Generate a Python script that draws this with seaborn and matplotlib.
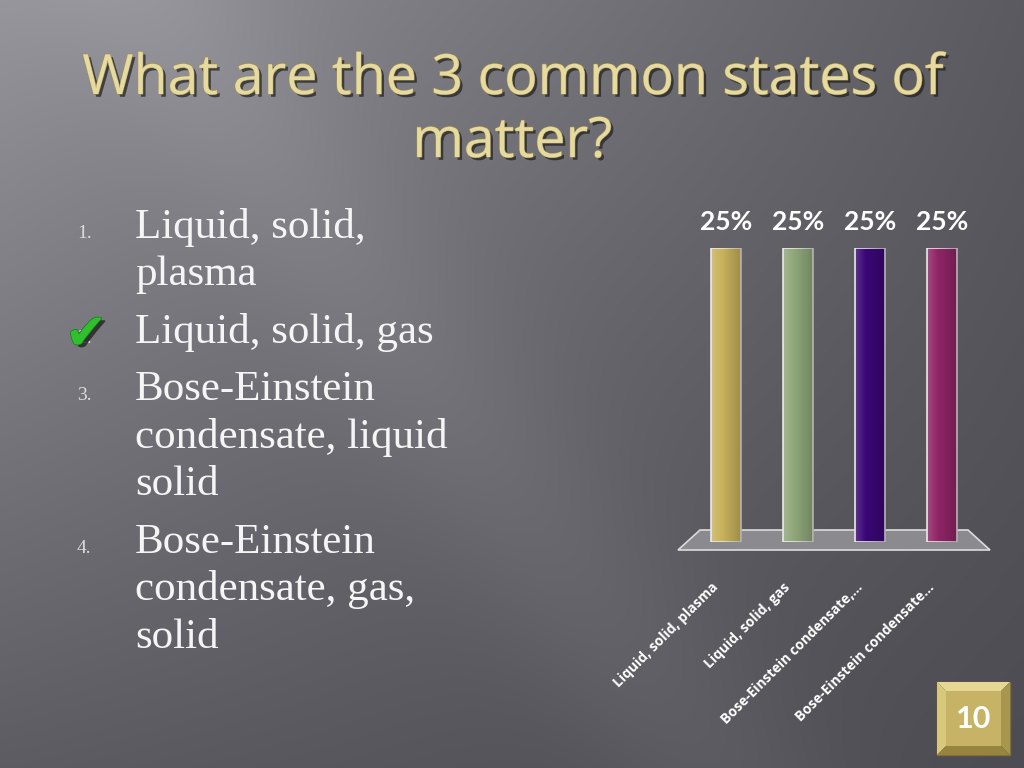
import numpy as np
import pandas as pd
import matplotlib
matplotlib.use("Agg")
import matplotlib.pyplot as plt
import matplotlib.patheffects as pe
from matplotlib.patches import Polygon
from matplotlib.transforms import ScaledTranslation
import seaborn as sns

# ---- data ----
answers = ["Liquid, solid, plasma", "Liquid, solid, gas",
           "Bose-Einstein condensate,…", "Bose-Einstein condensate…"]
percent = [25, 25, 25, 25]
bar_colors = ["#c9b25c", "#90a77a", "#3a0776", "#8f2566"]
title_lines = ["What are the 3 common states of", "matter?"]
list_numbers = ["1.", "2.", "3.", "4."]
list_items = [["Liquid, solid,", "plasma"],
              ["Liquid, solid, gas"],
              ["Bose-Einstein", "condensate, liquid", "solid"],
              ["Bose-Einstein", "condensate, gas,", "solid"]]
slide_number = "10"

sns.set_theme(style="white")
W, H = 1024, 768
fig = plt.figure(figsize=(10.24, 7.68), dpi=100)

# ---- background ----
bg = fig.add_axes([0, 0, 1, 1], zorder=0)
yy, xx = np.mgrid[0:1:384j, 0:1:512j]
v = 150 - 58 * xx - 56 * yy + 42 * xx * yy
d = (xx - 0.15 - 0.55 * yy)
v = v + 10 * np.exp(-(d / 0.12) ** 2)
img = np.dstack([v - 1, v - 2, v + 4]) / 255.0
bg.imshow(np.clip(img, 0, 1), extent=[0, W, H, 0], aspect="auto", interpolation="bilinear")
bg.set_xlim(0, W)
bg.set_ylim(H, 0)
bg.axis("off")

# ---- title ----
title_fx = [pe.withSimplePatchShadow(offset=(2, -2), shadow_rgbFace="#1e1e1e", alpha=0.7),
            pe.Stroke(linewidth=0.8, foreground="#9d8f52"), pe.Normal()]
for i, line in enumerate(title_lines):
    bg.text(512, 94 + i * 63, line, ha="center", va="baseline", fontsize=40,
            family="Open Sans", color="#e6daa0", path_effects=title_fx)

# ---- answer list ----
baselines = [[238, 285], [343], [400, 448, 495], [553, 600, 648]]
for num, item, bls in zip(list_numbers, list_items, baselines):
    bg.text(77, bls[0], num, ha="left", va="baseline", fontsize=14,
            family="Liberation Serif", color="#dcdcdc")
    for ln, b in zip(item, bls):
        bg.text(135, b, ln, ha="left", va="baseline", fontsize=31,
                family="Liberation Serif", color="#f5f5f5")

# check mark (drawn over the "2." as on the slide)
bg.text(86, 335, "✔", ha="center", va="center", fontsize=36, family="DejaVu Sans",
        color="#2fbf2f",
        path_effects=[pe.withSimplePatchShadow(offset=(3, -2), shadow_rgbFace="#222222", alpha=0.8),
                      pe.Stroke(linewidth=1, foreground="#137a13"), pe.Normal()])

# ---- floor of 3D chart ----
floor = Polygon([(700, 530), (968, 530), (990, 550), (678, 550)], closed=True,
                facecolor="#8b8a8f", edgecolor="#dcdcdc", linewidth=1.2, zorder=2)
bg.add_patch(floor)

# ---- slide number box ----
x0, y0, x1, y1 = 937, 682, 1010, 755
b = 9
bg.add_patch(Polygon([(x0, y0), (x1, y0), (x1, y1), (x0, y1)], facecolor="none", edgecolor="#7d6f35", linewidth=1))
bg.add_patch(Polygon([(x0, y0), (x1, y0), (x1 - b, y0 + b), (x0 + b, y0 + b)], facecolor="#e6d792", edgecolor="none"))
bg.add_patch(Polygon([(x0, y0), (x0 + b, y0 + b), (x0 + b, y1 - b), (x0, y1)], facecolor="#d8c87c", edgecolor="none"))
bg.add_patch(Polygon([(x1, y0), (x1, y1), (x1 - b, y1 - b), (x1 - b, y0 + b)], facecolor="#a8964f", edgecolor="none"))
bg.add_patch(Polygon([(x0, y1), (x1, y1), (x1 - b, y1 - b), (x0 + b, y1 - b)], facecolor="#97853f", edgecolor="none"))
bg.add_patch(Polygon([(x0 + b, y0 + b), (x1 - b, y0 + b), (x1 - b, y1 - b), (x0 + b, y1 - b)], facecolor="#c7b366", edgecolor="none"))
bg.text((x0 + x1) / 2, (y0 + y1) / 2 + 1, slide_number, ha="center", va="center", fontsize=22,
        fontweight="bold", family="Lato", color="white")

# ---- chart ----
ax = fig.add_axes([678 / W, 1 - 542 / H, 312 / W, (542 - 248) / H], zorder=3)
ax.patch.set_alpha(0)
df = pd.DataFrame({"answer": answers, "pct": percent})
sns.barplot(data=df, x="answer", y="pct", hue="answer", palette=bar_colors,
            saturation=1, width=0.42, edgecolor="#e8e8e8", linewidth=1.2,
            legend=False, ax=ax)

# cylinder shading
shade = np.linspace(0, 1, 64)
alpha_map = np.zeros((1, 64, 4))
alpha_map[0, :, :3] = np.where(shade[:, None] < 0.35, 1.0, 0.0)
alpha_map[0, :, 3] = np.where(shade < 0.35, 0.18 * (1 - shade / 0.35), 0.22 * (shade - 0.35) / 0.65)
for p in list(ax.patches):
    x, yb = p.get_x(), p.get_y()
    w, h = p.get_width(), p.get_height()
    im = ax.imshow(alpha_map, extent=[x, x + w, yb, yb + h], aspect="auto", zorder=p.get_zorder() + 0.1)
    im.set_clip_path(p)
ax.set_xlim(-0.667, 3.667)
ax.set_ylim(0, 25)

for c in ax.containers:
    ax.bar_label(c, fmt="%g%%", padding=10, color="white", fontsize=19,
                 fontweight="bold", family="Lato")

ax.set_xlabel("")
ax.set_ylabel("")
ax.set_yticks([])
for s in ax.spines.values():
    s.set_visible(False)
ax.tick_params(axis="x", length=0, pad=31)
offset = ScaledTranslation(-10 / 100, 0, fig.dpi_scale_trans)
for lbl in ax.get_xticklabels():
    lbl.set_rotation(45)
    lbl.set_rotation_mode("anchor")
    lbl.set_ha("right")
    lbl.set_va("center")
    lbl.set_color("white")
    lbl.set_fontsize(10)
    lbl.set_fontweight("bold")
    lbl.set_family("Open Sans")
    lbl.set_transform(lbl.get_transform() + offset)

fig.savefig("out.png", dpi=100)
